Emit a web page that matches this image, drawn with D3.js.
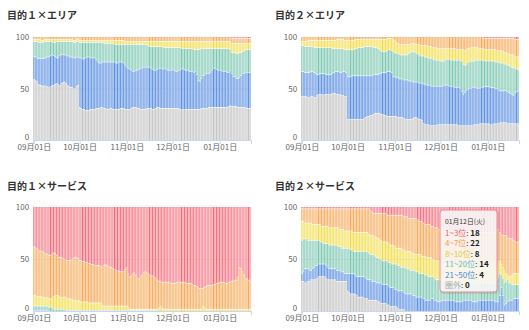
<!DOCTYPE html>
<html><head><meta charset="utf-8">
<script src="https://cdn.jsdelivr.net/npm/d3@7"></script>
<style>
body{margin:0;background:#fff}
svg{display:block}
text{font-family:"Noto Sans CJK JP","Noto Sans",sans-serif}
</style>
</head><body><svg id="c" width="529" height="330"></svg>
<script>
// ---------- categories / labels ----------
const seriesNames = ["1~3位","4~7位","8~10位","11~20位","21~50位","圏外"];
const panelTitles = ["目的１×エリア","目的２×エリア","目的１×サービス","目的２×サービス"];
const startDate = new Date(2015, 8, 1);
const dayCount = 143;
const tickLabels = ["09月01日","10月01日","11月01日","12月01日","01月01日"];
const tickDates = [new Date(2015,8,1), new Date(2015,9,1), new Date(2015,10,1), new Date(2015,11,1), new Date(2016,0,1)];
const yTickValues = [0, 50, 100];
const weekdayNames = ["日","月","火","水","木","金","土"];
const tooltipIndex = 133; // 01月12日

// ---------- panel 1: 目的１×エリア (percent) ----------
const p1_r13 = [
0,0,0,0,0,0,0,0,0,0, 0,0,0,0,0,0,0,0,0,0, 0,0,0,0,0,0,0,0,0,0,
0,0,0,0,0,0,0,0,0,0, 0,0,0,0,0,0,0,0,0,0, 0,0,0,0,0,0,0,0,0,0,
0,0,0,0,0,0,0,0,0,0, 0,0,0,0,0,0,0,0,0,0, 0,0,0,0,0,0,0,0,0,0,
0,0,0,0,0,0,0,0,0,0, 0,0,0,0,0,0,0,0,0,0, 0,0,0,0,0,0,0,0,0,0,
0,0,0,0,0,0,0,0,0,0, 1,1,1,1,1,1,1,1,1,1, 1,1,1];
const p1_r47 = [
2,2,2,2,2,3,3,2,2,2, 2,2,2,2,2,2,2,2,2,2, 2,2,2,2,2,2,3,3,2,2,
3,3,3,3,3,3,3,3,3,3, 3,3,3,3,3,3,3,3,3,3, 3,3,3,3,3,3,3,3,3,3,
4,4,4,4,4,4,4,4,4,4, 4,4,4,4,4,4,4,4,4,4, 4,4,4,4,4,4,4,4,4,4,
4,4,4,4,4,4,4,4,4,4, 4,4,4,4,4,4,4,4,4,4, 4,4,4,4,4,4,4,4,4,4,
4,4,4,4,4,4,4,4,4,4, 5,5,5,5,5,5,5,5,5,5, 5,5,5];
const p1_r810 = [
2,2,2,3,3,2,2,2,2,2, 2,2,2,3,3,2,2,2,2,2, 2,2,2,2,2,2,2,2,2,2,
2,2,2,2,2,2,2,2,2,2, 2,2,2,2,2,2,3,3,3,3, 3,3,3,4,4,4,4,4,4,4,
3,3,3,3,3,3,3,3,3,3, 3,3,3,3,3,4,5,5,5,5, 5,5,5,5,5,6,6,6,6,6,
6,6,6,6,6,6,6,7,7,7, 7,7,7,7,7,8,8,8,8,8, 7,7,7,7,7,7,7,7,7,7,
7,7,7,7,7,7,7,7,7,8, 9,9,9,10,10,9,9,8,7,6, 6,6,6];
const p1_r1120 = [
15,15,16,16,16,16,16,16,16,15, 15,14,13,13,14,16,16,14,13,13, 13,13,14,14,15,15,15,15,15,15,
15,15,16,16,15,14,14,15,15,15, 15,17,19,20,20,19,18,18,18,18, 18,18,18,17,18,18,17,17,17,18,
20,22,23,24,25,26,26,25,25,24, 23,23,22,22,22,21,20,21,22,23, 23,22,21,21,21,21,20,21,22,22,
22,21,22,23,23,22,22,20,20,21, 21,21,22,22,22,22,21,24,30,31, 29,26,26,24,24,24,23,21,19,19,
20,21,21,21,22,22,22,23,23,20, 20,23,23,24,24,24,22,21,22,22, 22,22,22];
const p1_r2150 = [
22,23,23,25,26,26,27,27,28,29, 30,30,30,29,27,25,26,29,28,27, 26,27,28,29,29,29,30,30,28,27,
48,49,49,49,51,52,52,50,50,50, 50,47,45,44,43,44,45,45,46,46, 45,45,46,46,45,45,46,45,45,44,
43,41,40,39,37,35,35,36,37,38, 40,40,41,41,40,40,40,39,39,38, 37,37,38,39,39,38,39,38,37,37,
37,38,37,36,36,37,38,40,40,39, 38,38,37,37,37,36,37,34,28,27, 29,32,32,34,34,33,34,36,38,38,
37,36,36,36,35,35,35,34,33,33, 32,29,29,27,28,29,31,33,33,34, 35,35,35];
const p1_out = [
59,58,57,55,54,54,53,53,52,52, 51,52,53,54,55,55,54,53,55,56, 56,55,53,52,51,51,50,50,52,53,
32,31,30,30,29,29,29,30,30,30, 30,31,31,31,32,32,31,31,30,30, 31,31,30,30,30,30,30,31,31,31,
30,30,30,30,31,32,32,32,31,31, 30,30,30,30,31,31,31,31,30,30, 31,32,32,31,31,31,31,31,31,31,
31,31,31,31,31,31,30,30,30,30, 30,30,30,30,30,30,30,30,30,30, 31,31,31,31,31,32,32,32,32,32,
32,32,32,32,32,32,32,32,33,33, 33,33,33,33,32,32,32,32,32,32, 31,31,31];

// ---------- panel 2: 目的２×エリア (percent) ----------
const p2_r13 = [
0,0,0,0,0,0,0,0,0,0, 0,0,0,0,0,0,0,0,0,0, 0,0,0,0,0,0,0,0,0,0,
0,0,0,0,0,0,0,0,0,0, 0,0,0,0,0,0,0,0,0,0, 0,0,0,0,0,0,0,0,0,0,
0,0,0,0,0,0,0,0,0,0, 0,0,0,0,0,0,0,0,0,0, 0,0,0,0,0,0,0,0,0,0,
0,0,0,0,0,0,0,0,0,0, 0,0,0,0,0,0,0,0,0,0, 0,0,0,0,0,0,0,0,0,0,
1,1,1,1,1,1,1,1,1,1, 1,1,1,1,1,1,1,1,1,1, 2,2,2];
const p2_r47 = [
4,4,4,4,3,3,3,3,3,3, 3,3,3,3,3,3,3,3,3,3, 3,3,3,2,2,2,2,2,3,3,
3,3,3,3,3,2,2,2,2,2, 2,2,2,2,2,2,2,2,2,2, 2,2,2,2,2,2,1,1,1,1,
2,3,5,6,7,7,7,7,7,7, 7,7,6,6,6,7,7,7,8,8, 8,8,8,9,9,9,10,10,10,11,
11,11,11,11,11,11,11,11,11,11, 11,11,12,12,12,12,12,13,12,11, 11,10,10,10,10,10,11,11,11,11,
11,11,11,11,11,11,11,11,12,12, 12,12,13,14,14,15,15,16,16,16, 17,17,17];
const p2_r810 = [
4,4,5,5,6,6,6,6,7,7, 7,7,7,7,7,7,7,7,7,7, 8,8,8,9,9,9,9,9,9,9,
9,9,9,9,9,9,9,8,8,8, 8,7,7,7,7,7,7,8,8,8, 9,10,11,12,12,12,12,11,11,12,
12,12,10,10,9,10,10,10,10,10, 9,8,8,8,8,8,9,10,10,10, 10,11,11,11,11,11,11,11,12,11,
11,12,12,12,11,10,10,10,11,11, 11,11,10,10,10,11,14,14,14,13, 12,13,13,13,12,12,11,11,11,11,
11,11,11,11,11,11,11,12,11,11, 12,12,11,11,11,11,11,11,12,12, 11,12,12];
const p2_r1120 = [
25,25,25,25,25,25,24,24,24,25, 26,26,25,25,25,25,26,26,26,26, 24,23,22,22,22,23,23,22,21,22,
26,26,26,25,25,26,26,27,27,27, 27,28,28,28,28,28,28,26,26,26, 25,23,22,20,20,20,20,21,21,21,
24,23,24,23,24,23,23,24,24,24, 26,27,28,29,29,28,27,27,26,26, 27,26,27,26,26,27,26,26,25,25,
25,24,24,23,24,25,25,26,25,25, 26,26,26,26,27,29,29,26,25,26, 26,26,25,25,26,27,27,27,26,26,
25,25,25,25,26,26,26,26,26,27, 27,27,27,26,26,26,26,26,26,27, 24,22,21];
const p2_r2150 = [
24,24,23,23,24,24,24,24,24,23, 20,19,20,20,21,20,19,19,19,19, 19,20,21,22,22,21,22,23,24,23,
41,41,41,42,42,42,42,42,42,42, 42,41,40,39,39,38,38,38,37,37, 37,38,39,40,41,41,43,43,43,42,
38,38,37,38,37,37,37,37,38,38, 37,37,37,35,34,34,35,35,35,36, 38,39,38,38,39,38,38,38,38,37,
37,37,37,38,38,38,38,37,37,37, 36,36,36,37,36,33,30,32,34,35, 36,36,37,36,36,35,35,34,35,35,
36,36,36,36,36,36,35,34,34,33, 31,31,31,31,31,31,30,29,28,27, 30,31,32];
const p2_out = [
42,42,42,42,41,41,42,42,41,41, 43,44,44,44,43,44,44,44,44,44, 45,45,45,44,44,44,43,43,42,42,
20,20,20,20,20,20,20,20,20,20, 20,21,22,23,23,24,24,25,26,26, 26,26,25,25,24,24,23,23,23,23,
23,23,23,22,22,22,22,21,20,20, 20,20,20,21,22,22,21,20,20,19, 16,15,15,15,14,14,14,14,14,15,
15,15,15,15,15,15,15,15,15,15, 15,15,15,14,14,14,14,14,14,14, 14,14,14,15,15,15,15,16,16,16,
16,16,16,16,15,15,16,16,16,16, 17,17,17,17,17,16,16,16,16,16, 16,16,16];

// ---------- panel 3: 目的１×サービス (percent) ----------
const p3_r13 = [
38,39,40,41,42,42,43,44,45,45, 46,46,45,44,44,46,48,48,48,49, 50,50,51,51,51,50,49,48,48,49,
51,51,52,52,53,53,54,54,55,55, 56,56,56,56,57,58,56,55,56,57, 58,58,59,60,61,61,62,62,62,62,
60,58,64,67,66,64,63,65,68,69, 67,65,63,62,63,64,65,66,66,67, 68,70,71,71,72,72,72,72,72,72,
73,73,73,73,72,72,72,72,72,72, 73,73,73,73,74,75,75,76,77,78, 78,78,77,76,75,75,75,75,74,74,
73,73,72,72,72,72,73,73,72,72, 71,71,70,70,67,58,59,62,65,68, 69,70,71];
const p3_r47 = [
47,46,46,45,44,44,44,43,42,42, 42,42,43,42,41,39,37,38,39,38, 36,37,37,37,37,39,40,42,42,41,
39,40,39,39,38,38,38,38,37,37, 36,36,36,36,35,36,39,40,39,38, 37,37,36,35,34,34,33,33,33,33,
35,37,32,31,32,34,35,33,30,29, 31,33,35,36,35,34,33,32,32,31, 30,28,26,24,25,26,26,26,26,26,
25,25,25,25,26,26,26,26,26,26, 25,25,25,25,24,23,23,22,21,20, 20,17,19,22,23,23,23,23,24,24,
25,25,26,26,26,26,25,25,26,26, 27,27,28,28,31,40,39,36,33,30, 29,28,27];
const p3_r810 = [
10,10,9,9,9,9,8,8,8,8, 8,8,8,12,13,13,13,12,11,11, 12,12,11,11,11,10,10,9,9,9,
9,8,8,8,8,8,7,7,7,7, 7,7,7,7,7,5,4,4,4,4, 4,4,4,4,4,4,4,4,4,4,
4,4,3,1,1,1,1,1,1,1, 1,1,1,1,1,1,1,1,1,1, 1,1,3,5,3,2,2,2,2,2,
2,2,2,2,2,2,2,2,2,2, 2,2,2,2,2,2,2,2,2,2, 2,5,4,2,2,2,2,2,2,2,
2,2,2,2,2,2,2,2,2,2, 2,2,2,2,2,2,2,2,2,2, 2,2,2];
const p3_r1120 = [
4,4,4,4,4,4,4,4,4,4, 4,4,4,2,2,2,2,2,2,2, 2,1,1,1,1,1,1,1,1,1,
1,1,1,1,1,1,1,1,1,1, 1,1,1,1,1,1,1,1,1,1, 1,1,1,1,1,1,1,1,1,1,
1,1,1,1,1,1,1,1,1,1, 1,1,1,1,1,1,1,1,1,1, 1,1,0,0,0,0,0,0,0,0,
0,0,0,0,0,0,0,0,0,0, 0,0,0,0,0,0,0,0,0,0, 0,0,0,0,0,0,0,0,0,0,
0,0,0,0,0,0,0,0,0,0, 0,0,0,0,0,0,0,0,0,0, 0,0,0];
const p3_r2150 = [
1,1,1,1,1,1,1,1,1,1, 0,0,0,0,0,0,0,0,0,0, 0,0,0,0,0,0,0,0,0,0,
0,0,0,0,0,0,0,0,0,0, 0,0,0,0,0,0,0,0,0,0, 0,0,0,0,0,0,0,0,0,0,
0,0,0,0,0,0,0,0,0,0, 0,0,0,0,0,0,0,0,0,0, 0,0,0,0,0,0,0,0,0,0,
0,0,0,0,0,0,0,0,0,0, 0,0,0,0,0,0,0,0,0,0, 0,0,0,0,0,0,0,0,0,0,
0,0,0,0,0,0,0,0,0,0, 0,0,0,0,0,0,0,0,0,0, 0,0,0];
const p3_out = [
0,0,0,0,0,0,0,0,0,0, 0,0,0,0,0,0,0,0,0,0, 0,0,0,0,0,0,0,0,0,0,
0,0,0,0,0,0,0,0,0,0, 0,0,0,0,0,0,0,0,0,0, 0,0,0,0,0,0,0,0,0,0,
0,0,0,0,0,0,0,0,0,0, 0,0,0,0,0,0,0,0,0,0, 0,0,0,0,0,0,0,0,0,0,
0,0,0,0,0,0,0,0,0,0, 0,0,0,0,0,0,0,0,0,0, 0,0,0,0,0,0,0,0,0,0,
0,0,0,0,0,0,0,0,0,0, 0,0,0,0,0,0,0,0,0,0, 0,0,0];

// ---------- panel 4: 目的２×サービス (keyword counts, 66 total) ----------
const p4_r13 = [
1,1,1,1,1,1,1,1,1,1, 1,1,1,1,1,1,1,1,1,1, 1,1,1,1,1,1,1,1,1,1,
1,1,1,1,1,1,1,1,1,1, 1,1,1,1,1,2,3,4,4,4, 4,4,4,4,4,4,5,5,5,5,
5,5,5,5,5,5,5,6,6,6, 7,7,7,7,7,7,8,9,9,9, 10,11,11,11,11,12,12,13,13,13,
14,14,14,14,14,15,15,15,15,15, 15,15,15,15,15,16,16,16,16,16, 16,16,16,15,15,15,16,16,16,16,
16,16,16,16,16,16,16,15,15,14, 16,17,18,18,18,19,20,20,20,21, 22,22,22];
const p4_r47 = [
8,8,9,9,9,9,9,10,10,10, 10,10,10,11,11,11,11,11,12,12, 12,12,12,12,12,13,13,13,14,14,
14,14,14,14,15,15,15,15,15,15, 15,15,15,15,16,16,15,14,15,15, 16,16,17,18,18,18,17,18,19,19,
19,20,21,21,21,21,22,21,22,22, 21,21,22,22,23,23,22,21,21,22, 21,20,21,21,21,20,21,20,21,21,
20,21,21,22,22,21,21,21,22,22, 22,22,23,23,23,22,23,23,23,23, 23,23,22,23,23,23,22,22,22,23,
23,23,22,22,22,22,22,23,22,21, 18,19,20,22,24,24,24,24,23,21, 20,20,20];
const p4_r810 = [
12,11,10,10,11,11,11,10,10,10, 10,10,11,10,11,11,11,11,11,11, 11,11,11,11,12,11,12,12,11,11,
11,11,12,12,12,12,12,12,12,12, 12,12,12,12,12,12,12,12,12,13, 12,13,12,12,12,12,12,12,11,12,
12,11,10,11,11,12,11,11,10,11, 11,12,11,11,10,11,11,12,12,11, 11,12,11,12,12,12,11,12,12,12,
12,11,11,11,11,11,12,12,11,11, 11,11,10,11,11,11,10,10,10,10, 10,10,11,11,11,10,10,10,10,9,
9,9,10,10,10,10,10,9,9,9, 8,7,7,8,5,3,4,4,6,7, 7,7,7];
const p4_r1120 = [
21,21,19,19,18,19,19,18,17,16, 16,15,14,14,13,13,14,15,15,15, 15,15,15,16,15,15,15,15,16,16,
16,16,15,15,14,15,16,16,16,16, 16,16,17,18,17,16,17,17,16,16, 16,15,15,15,15,15,15,15,16,15,
15,16,16,16,16,15,15,16,17,16, 16,15,15,16,16,16,16,15,15,15, 16,16,16,15,15,14,14,14,13,14,
14,14,13,12,12,12,11,11,11,11, 11,12,12,11,11,11,10,10,10,10, 10,10,11,11,11,12,11,11,11,11,
11,11,11,11,11,11,11,13,14,16, 14,8,11,14,14,14,11,11,10,9, 9,9,9];
const p4_r2150 = [
5,6,9,9,8,7,6,7,8,9, 8,8,8,8,8,8,8,8,7,7, 7,7,7,7,7,7,6,6,5,5,
11,12,13,13,13,12,12,13,13,13, 13,14,13,12,13,13,12,12,12,11, 12,12,13,12,12,12,13,12,12,12,
12,11,11,11,12,12,12,11,11,11, 11,11,11,10,10,9,9,9,9,9, 8,7,7,7,7,8,8,7,7,6,
6,6,7,7,7,7,7,7,7,7, 7,6,6,6,6,6,7,7,7,7, 7,7,6,6,6,6,7,7,7,7,
7,7,7,7,7,7,7,6,6,6, 10,15,10,4,5,6,7,7,7,8, 8,8,8];
const p4_out = [
19,19,18,18,19,19,20,20,20,20, 21,22,22,22,22,22,21,20,20,20, 20,20,20,19,19,19,19,19,19,19,
13,12,11,11,11,11,10,9,9,9, 9,8,8,8,7,7,7,7,7,7, 6,6,5,5,5,5,4,4,3,3,
3,3,3,2,1,1,1,1,0,0, 0,0,0,0,0,0,0,0,0,0, 0,0,0,0,0,0,0,0,0,0,
0,0,0,0,0,0,0,0,0,0, 0,0,0,0,0,0,0,0,0,0, 0,0,0,0,0,0,0,0,0,0,
0,0,0,0,0,0,0,0,0,0, 0,0,0,0,0,0,0,0,0,0, 0,0,0];

// ---------- styling ----------
const keys = ["out","r2150","r1120","r810","r47","r13"]; // bottom -> top
const keyLabel = {r13:"1~3位", r47:"4~7位", r810:"8~10位", r1120:"11~20位", r2150:"21~50位", out:"圏外"};
const darkColor  = {r13:"#f25c6e", r47:"#f6a04c", r810:"#efd83c", r1120:"#6fc1a9", r2150:"#4d86de", out:"#bdbdbd"};
const lightColor = {r13:"#f8a9b1", r47:"#f9c993", r810:"#f7eb8f", r1120:"#abdccd", r2150:"#93b5ec", out:"#d8d8d8"};
const textColor  = {r13:"#f25c6e", r47:"#f6a04c", r810:"#e8cc28", r1120:"#6fc1a9", r2150:"#4d86de", out:"#aaaaaa"};

const dates = d3.timeDay.range(startDate, d3.timeDay.offset(startDate, dayCount));

const panels = [
  {title: panelTitles[0], series:{r13:p1_r13,r47:p1_r47,r810:p1_r810,r1120:p1_r1120,r2150:p1_r2150,out:p1_out}, left:33.2, right:251, top:37, bottom:140, titleX:7, titleY:19},
  {title: panelTitles[1], series:{r13:p2_r13,r47:p2_r47,r810:p2_r810,r1120:p2_r1120,r2150:p2_r2150,out:p2_out}, left:301.2, right:519, top:37, bottom:140, titleX:275, titleY:19},
  {title: panelTitles[2], series:{r13:p3_r13,r47:p3_r47,r810:p3_r810,r1120:p3_r1120,r2150:p3_r2150,out:p3_out}, left:33.2, right:251, top:207, bottom:311, titleX:7, titleY:190},
  {title: panelTitles[3], series:{r13:p4_r13,r47:p4_r47,r810:p4_r810,r1120:p4_r1120,r2150:p4_r2150,out:p4_out}, left:301.2, right:519, top:207, bottom:311, titleX:275, titleY:190}
];

const svg = d3.select("#c");
const defs = svg.append("defs");
keys.forEach(k => {
  const g = defs.append("linearGradient").attr("id","g-"+k).attr("x1",0).attr("x2",1).attr("y1",0).attr("y2",0);
  g.append("stop").attr("offset","0").attr("stop-color",darkColor[k]);
  g.append("stop").attr("offset","0.35").attr("stop-color",darkColor[k]);
  g.append("stop").attr("offset","0.35").attr("stop-color",lightColor[k]);
  g.append("stop").attr("offset","1").attr("stop-color",lightColor[k]);
});

const stack = d3.stack().keys(keys).offset(d3.stackOffsetExpand);

panels.forEach((p, pi) => {
  const rows = dates.map((dt, i) => {
    const r = {date: dt};
    keys.forEach(k => r[k] = p.series[k][i]);
    return r;
  });
  const x = d3.scaleTime()
    .domain([d3.timeHour.offset(dates[0], -12), d3.timeHour.offset(dates[dates.length-1], 12)])
    .range([p.left, p.right]);
  const y = d3.scaleLinear().domain([0, 100]).range([p.bottom, p.top]);
  const step = x(dates[1]) - x(dates[0]);
  const bw = step * 0.8;

  const g = svg.append("g");
  g.append("text").attr("x", p.titleX).attr("y", p.titleY)
    .attr("font-size", 10).attr("font-weight", "bold").attr("fill", "#333").text(p.title);

  // gridlines
  g.append("g").selectAll("line").data(yTickValues).join("line")
    .attr("x1", p.left).attr("x2", p.right)
    .attr("y1", d => y(d)+0.5).attr("y2", d => y(d)+0.5)
    .attr("stroke", "#e6e6e6");

  const layers = stack(rows);
  g.append("g").selectAll("g").data(layers).join("g")
    .attr("fill", d => `url(#g-${d.key})`)
    .selectAll("rect").data(d => d).join("rect")
    .attr("x", d => x(d.data.date) - bw/2)
    .attr("width", bw)
    .attr("y", d => y(d[1]*100) + (d[1] < 0.999 ? 0.6 : 0))
    .attr("height", d => Math.max(0, y(d[0]*100) - y(d[1]*100) - (d[1] < 0.999 ? 0.6 : 0)));

  // y axis labels
  g.append("g").selectAll("text").data(yTickValues).join("text")
    .attr("x", p.left - 4).attr("y", d => y(d) + (d === 0 ? 0.3 : 3))
    .attr("text-anchor", "end").attr("font-size", 8).attr("fill", "#666")
    .text(d => d);

  // x axis
  const xAxis = d3.axisBottom(x).tickValues(tickDates).tickSize(4)
    .tickFormat((d, i) => tickLabels[i]);
  const ax = g.append("g").attr("transform", `translate(0,${p.bottom})`).call(xAxis);
  ax.select(".domain").attr("stroke", "#ccd6eb");
  ax.selectAll(".tick line").attr("stroke", "#ccd6eb");
  ax.selectAll(".tick text").attr("font-size", 8).attr("fill", "#666")
    .attr("font-family", '"Noto Sans CJK JP","Noto Sans",sans-serif').attr("dy", "0.9em").attr("y", 3.2);

  // tooltip on the last panel
  if (pi === 3) {
    const ti = tooltipIndex;
    const dt = dates[ti];
    const header = d3.timeFormat("%m月%d日")(dt) + "(" + weekdayNames[dt.getDay()] + ")";
    const tg = svg.append("g");
    const bx = 440, by = 210, bwid = 57, bh = 82;
    tg.append("rect").attr("x", bx+1).attr("y", by+1).attr("width", bwid).attr("height", bh)
      .attr("rx", 3).attr("fill", "none").attr("stroke", "rgba(0,0,0,0.08)").attr("stroke-width", 2);
    tg.append("rect").attr("x", bx).attr("y", by).attr("width", bwid).attr("height", bh)
      .attr("rx", 3).attr("fill", "rgba(247,247,247,0.88)").attr("stroke", "#f28a96").attr("stroke-width", 1);
    tg.append("text").attr("x", bx+5).attr("y", by+14).attr("font-size", 6.8).attr("fill", "#333").text(header);
    const order = ["r13","r47","r810","r1120","r2150","out"];
    order.forEach((k, j) => {
      const t = tg.append("text").attr("x", bx+5).attr("y", by+25.5 + j*10.5).attr("font-size", 8);
      t.append("tspan").attr("fill", textColor[k]).text(keyLabel[k]);
      t.append("tspan").attr("fill", "#333").text(": ");
      t.append("tspan").attr("fill", "#222").attr("font-weight", "bold").text(p.series[k][ti]);
    });
  }
});
</script>
</body></html>
